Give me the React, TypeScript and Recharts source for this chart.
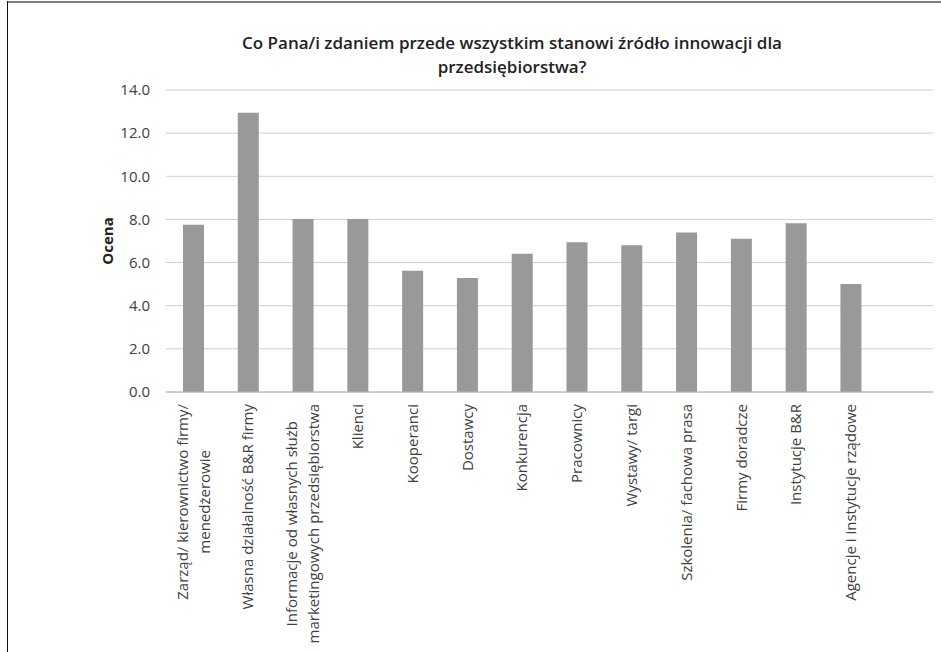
import { BarChart, Bar, XAxis, YAxis, CartesianGrid } from 'recharts';

const TITLE_LINES = [
  'Co Pana/i zdaniem przede wszystkim stanowi źródło innowacji dla',
  'przedsiębiorstwa?',
];

// each category may be split over several lines
const categories: string[][] = [
  ['Zarząd/ kierownictwo firmy/', 'menedżerowie'],
  ['Własna działalność B&R firmy'],
  ['Informacje od własnych służb', 'marketingowych przedsiębiorstwa'],
  ['Klienci'],
  ['Kooperanci'],
  ['Dostawcy'],
  ['Konkurencja'],
  ['Pracownicy'],
  ['Wystawy/ targi'],
  ['Szkolenia/ fachowa prasa'],
  ['Firmy doradcze'],
  ['Instytucje B&R'],
  ['Agencje i instytucje rządowe'],
];

const ocena = [7.75, 12.95, 8.02, 8.02, 5.62, 5.28, 6.41, 6.94, 6.8, 7.39, 7.11, 7.82, 5.01];

const yTicks = [0, 2, 4, 6, 8, 10, 12, 14];

const FONT = '"Open Sans", sans-serif';
const TEXT = '#404040';

// the original leaves one empty slot after the last category
const data = [
  ...categories.map((c, i) => ({ key: String(i), value: ocena[i] })),
  { key: 'pad', value: null },
];

let ctx: CanvasRenderingContext2D | null = null;
function measure(s: string, size: number) {
  if (!ctx) ctx = document.createElement('canvas').getContext('2d');
  if (!ctx) return s.length * size * 0.5;
  ctx.font = `${size}px "Open Sans"`;
  return ctx.measureText(s).width;
}

function CategoryTick(props: any) {
  const { x, payload } = props;
  const lines = categories[Number(payload.value)];
  if (!lines) return null;
  const size = 15;
  const lineH = 22;
  const maxW = Math.max(...lines.map((l) => measure(l, size)));
  return (
    <g transform={`translate(${x},${404})`}>
      {lines.map((l, i) => (
        <text
          key={i}
          transform="rotate(-90)"
          x={-maxW / 2}
          y={(i - (lines.length - 1) / 2) * lineH}
          dy="0.35em"
          textAnchor="middle"
          fontSize={size}
          fontFamily={FONT}
          fill={TEXT}
        >
          {l}
        </text>
      ))}
    </g>
  );
}

export default function App() {
  return (
    <div style={{ position: 'absolute', left: 0, top: 0, width: 941, height: 652, background: '#fff', fontFamily: FONT }}>
      {/* frame of the scanned figure */}
      <div style={{ position: 'absolute', left: 7, top: 1, right: 0, height: 2, background: '#808080' }} />
      <div style={{ position: 'absolute', left: 7, top: 1, bottom: 0, width: 1, background: '#111' }} />

      <div style={{ position: 'absolute', left: 0, top: 31, width: 1024, textAlign: 'center', fontSize: 17, fontWeight: 600, color: '#222', lineHeight: '24px' }}>
        {TITLE_LINES.map((t) => <div key={t}>{t}</div>)}
      </div>

      <div style={{ position: 'absolute', left: 0, top: 0 }}>
        <BarChart width={941} height={652} data={data} margin={{ top: 90, right: 8, bottom: 250, left: 106 }}>
          <CartesianGrid vertical={false} stroke="#cfcfcf" />
          <XAxis dataKey="key" interval={0} tickLine={false} axisLine={{ stroke: '#b5b5b5' }} tick={<CategoryTick />} height={10} />
          <YAxis
            domain={[0, 14]}
            ticks={yTicks}
            width={60}
            axisLine={false}
            tickLine={false}
            tickMargin={10}
            tickFormatter={(v: number) => v.toFixed(1)}
            tick={{ fontSize: 15, fill: TEXT, fontFamily: FONT }}
            label={{ value: 'Ocena', angle: -90, position: 'insideLeft', offset: 0, dx: 2, style: { fontSize: 15, fontWeight: 700, fill: '#222', fontFamily: FONT, textAnchor: 'middle' } }}
          />
          <Bar dataKey="value" fill="#999999" barSize={21} isAnimationActive={false} />
        </BarChart>
      </div>
    </div>
  );
}
